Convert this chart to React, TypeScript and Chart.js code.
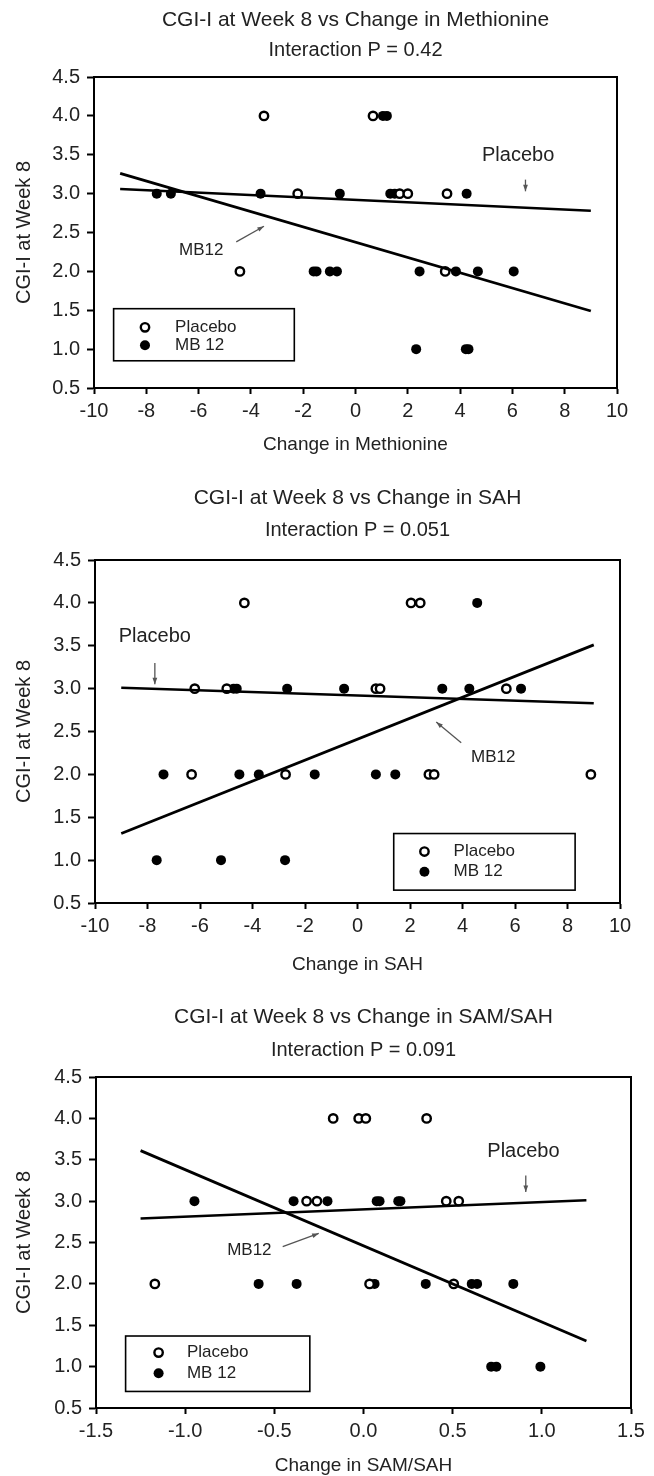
import React, { useEffect, useRef } from "react";
import { Chart, registerables } from "chart.js";

Chart.register(...registerables);
Chart.defaults.font.family = "'Liberation Sans', Arial, Helvetica, sans-serif";
Chart.defaults.color = "#222";

// ---------------- Shared axis data ----------------
const cgiTicks = [0.5, 1.0, 1.5, 2.0, 2.5, 3.0, 3.5, 4.0, 4.5];
const yAxisLabel = "CGI-I at Week 8";
const seriesNames = ["Placebo", "MB 12"];

// ---------------- Panel 1: Methionine ----------------
const methTitle = "CGI-I at Week 8 vs Change in Methionine";
const methSubtitle = "Interaction P = 0.42";
const methXLabel = "Change in Methionine";
const methXTicks = [-10, -8, -6, -4, -2, 0, 2, 4, 6, 8, 10];
const methPlaceboX = [-3.5, 0.67, -2.21, 1.69, 2.0, 3.5, -4.42, 3.43];
const methPlaceboY = [4, 4, 3, 3, 3, 3, 2, 2];
const methMbX = [1.05, 1.2, -7.6, -7.06, -3.63, -0.6, 1.33, 1.5, 4.25, -1.6, -1.49, -0.98, -0.71, 2.45, 3.84, 4.68, 6.05, 2.32, 4.22, 4.32];
const methMbY = [4, 4, 3, 3, 3, 3, 3, 3, 3, 2, 2, 2, 2, 2, 2, 2, 2, 1, 1, 1];
const methLineX = [-9, 9];
const methPlaceboLineY = [3.06, 2.78];
const methMbLineY = [3.26, 1.49];

// ---------------- Panel 2: SAH ----------------
const sahTitle = "CGI-I at Week 8 vs Change in SAH";
const sahSubtitle = "Interaction P = 0.051";
const sahXLabel = "Change in SAH";
const sahXTicks = [-10, -8, -6, -4, -2, 0, 2, 4, 6, 8, 10];
const sahPlaceboX = [-4.31, 2.04, 2.39, -6.2, -4.98, 0.7, 0.86, 5.67, -6.32, -2.74, 2.72, 2.92, 8.89];
const sahPlaceboY = [4, 4, 4, 3, 3, 3, 3, 3, 2, 2, 2, 2, 2];
const sahMbX = [4.56, -4.72, -4.6, -2.68, -0.51, 3.23, 4.26, 6.23, -7.39, -4.5, -3.76, -1.63, 0.7, 1.44, -7.65, -5.2, -2.76];
const sahMbY = [4, 3, 3, 3, 3, 3, 3, 3, 2, 2, 2, 2, 2, 2, 1, 1, 1];
const sahLineX = [-9, 9];
const sahPlaceboLineY = [3.01, 2.83];
const sahMbLineY = [1.31, 3.51];

// ---------------- Panel 3: SAM/SAH ----------------
const ratioTitle = "CGI-I at Week 8 vs Change in SAM/SAH";
const ratioSubtitle = "Interaction P = 0.091";
const ratioXLabel = "Change in SAM/SAH";
const ratioXTicks = [-1.5, -1.0, -0.5, 0.0, 0.5, 1.0, 1.5];
const ratioPlaceboX = [-0.17, -0.027, 0.013, 0.354, -0.319, -0.261, 0.464, 0.534, -1.17, 0.034, 0.506];
const ratioPlaceboY = [4, 4, 4, 4, 3, 3, 3, 3, 2, 2, 2];
const ratioMbX = [-0.948, -0.392, -0.202, 0.074, 0.09, 0.195, 0.207, -0.588, -0.375, 0.062, 0.349, 0.607, 0.637, 0.84, 0.716, 0.745, 0.992];
const ratioMbY = [3, 3, 3, 3, 3, 3, 3, 2, 2, 2, 2, 2, 2, 2, 1, 1, 1];
const ratioLineX = [-1.25, 1.25];
const ratioPlaceboLineY = [2.79, 3.01];
const ratioMbLineY = [3.61, 1.31];

// ---------------- Layout / styling (not data) ----------------
const W = 654;

type Note = { text: string; x: number; y: number; size: number };
type Arrow = { x1: number; y1: number; x2: number; y2: number };
type LegendBox = { x1: number; y1: number; x2: number; y2: number; markerX: number; textX: number; rowY: number[] };

type PanelCfg = {
  top: number;
  height: number;
  area: { left: number; right: number; top: number; bottom: number };
  titleY: number;
  subtitleY: number;
  xTitleY: number;
  title: string;
  subtitle: string;
  xLabel: string;
  xTicks: number[];
  xDecimals: number;
  placeboX: number[];
  placeboY: number[];
  mbX: number[];
  mbY: number[];
  lineX: number[];
  placeboLineY: number[];
  mbLineY: number[];
  notes: Note[];
  arrows: Arrow[];
  legend: LegendBox;
};

const panels: PanelCfg[] = [
  {
    top: 0,
    height: 475,
    area: { left: 94, right: 617, top: 77, bottom: 388 },
    titleY: 20,
    subtitleY: 50,
    xTitleY: 445,
    title: methTitle,
    subtitle: methSubtitle,
    xLabel: methXLabel,
    xTicks: methXTicks,
    xDecimals: 0,
    placeboX: methPlaceboX,
    placeboY: methPlaceboY,
    mbX: methMbX,
    mbY: methMbY,
    lineX: methLineX,
    placeboLineY: methPlaceboLineY,
    mbLineY: methMbLineY,
    notes: [
      { text: "Placebo", x: 6.22, y: 3.49, size: 20 },
      { text: "MB12", x: -5.9, y: 2.27, size: 17 },
    ],
    arrows: [
      { x1: 6.5, y1: 3.18, x2: 6.5, y2: 3.03 },
      { x1: -4.56, y1: 2.38, x2: -3.5, y2: 2.58 },
    ],
    legend: { x1: -9.25, y1: 1.52, x2: -2.34, y2: 0.85, markerX: -8.05, textX: -6.9, rowY: [1.28, 1.05] },
  },
  {
    top: 475,
    height: 520,
    area: { left: 95, right: 620, top: 85, bottom: 428 },
    titleY: 23,
    subtitleY: 55,
    xTitleY: 490,
    title: sahTitle,
    subtitle: sahSubtitle,
    xLabel: sahXLabel,
    xTicks: sahXTicks,
    xDecimals: 0,
    placeboX: sahPlaceboX,
    placeboY: sahPlaceboY,
    mbX: sahMbX,
    mbY: sahMbY,
    lineX: sahLineX,
    placeboLineY: sahPlaceboLineY,
    mbLineY: sahMbLineY,
    notes: [
      { text: "Placebo", x: -7.72, y: 3.61, size: 20 },
      { text: "MB12", x: 5.17, y: 2.2, size: 17 },
    ],
    arrows: [
      { x1: -7.72, y1: 3.3, x2: -7.72, y2: 3.05 },
      { x1: 3.95, y1: 2.37, x2: 3.0, y2: 2.61 },
    ],
    legend: { x1: 1.38, y1: 1.31, x2: 8.29, y2: 0.65, markerX: 2.55, textX: 3.66, rowY: [1.1, 0.865] },
  },
  {
    top: 995,
    height: 481,
    area: { left: 96, right: 631, top: 82, bottom: 413 },
    titleY: 22,
    subtitleY: 55,
    xTitleY: 471,
    title: ratioTitle,
    subtitle: ratioSubtitle,
    xLabel: ratioXLabel,
    xTicks: ratioXTicks,
    xDecimals: 1,
    placeboX: ratioPlaceboX,
    placeboY: ratioPlaceboY,
    mbX: ratioMbX,
    mbY: ratioMbY,
    lineX: ratioLineX,
    placeboLineY: ratioPlaceboLineY,
    mbLineY: ratioMbLineY,
    notes: [
      { text: "Placebo", x: 0.897, y: 3.6, size: 20 },
      { text: "MB12", x: -0.64, y: 2.4, size: 17 },
    ],
    arrows: [
      { x1: 0.91, y1: 3.31, x2: 0.91, y2: 3.11 },
      { x1: -0.453, y1: 2.45, x2: -0.251, y2: 2.61 },
    ],
    legend: { x1: -1.334, y1: 1.37, x2: -0.301, y2: 0.7, markerX: -1.149, textX: -0.99, rowY: [1.17, 0.92] },
  },
];

const FONT = "'Liberation Sans', Arial, Helvetica, sans-serif";
const TEXT = "#222";

function drawArrow(ctx: CanvasRenderingContext2D, x1: number, y1: number, x2: number, y2: number) {
  const ang = Math.atan2(y2 - y1, x2 - x1);
  const head = 7;
  ctx.save();
  ctx.strokeStyle = "#555";
  ctx.fillStyle = "#555";
  ctx.lineWidth = 1.3;
  ctx.beginPath();
  ctx.moveTo(x1, y1);
  ctx.lineTo(x2, y2);
  ctx.stroke();
  ctx.beginPath();
  ctx.moveTo(x2, y2);
  ctx.lineTo(x2 - head * Math.cos(ang - 0.35), y2 - head * Math.sin(ang - 0.35));
  ctx.lineTo(x2 - head * Math.cos(ang + 0.35), y2 - head * Math.sin(ang + 0.35));
  ctx.closePath();
  ctx.fill();
  ctx.restore();
}

function makeDecorPlugin(cfg: PanelCfg) {
  return {
    id: "decor",
    afterDraw(chart: any) {
      const ctx: CanvasRenderingContext2D = chart.ctx;
      const { chartArea } = chart;
      const xs = chart.scales.x;
      const ys = chart.scales.y;
      const px = (v: number) => xs.getPixelForValue(v);
      const py = (v: number) => ys.getPixelForValue(v);
      const cx = (chartArea.left + chartArea.right) / 2;

      ctx.save();
      // frame (top & right)
      ctx.strokeStyle = "#000";
      ctx.lineWidth = 2;
      ctx.beginPath();
      ctx.moveTo(chartArea.left, chartArea.top);
      ctx.lineTo(chartArea.right, chartArea.top);
      ctx.lineTo(chartArea.right, chartArea.bottom);
      ctx.stroke();

      // titles
      ctx.fillStyle = TEXT;
      ctx.textAlign = "center";
      ctx.textBaseline = "middle";
      ctx.font = `21px ${FONT}`;
      ctx.fillText(cfg.title, cx, cfg.titleY);
      ctx.font = `20px ${FONT}`;
      ctx.fillText(cfg.subtitle, cx, cfg.subtitleY);

      // notes
      cfg.notes.forEach((n) => {
        ctx.font = `${n.size}px ${FONT}`;
        ctx.fillStyle = TEXT;
        ctx.textAlign = "center";
        ctx.fillText(n.text, px(n.x), py(n.y));
      });
      cfg.arrows.forEach((a) => drawArrow(ctx, px(a.x1), py(a.y1), px(a.x2), py(a.y2)));

      // legend box
      const lg = cfg.legend;
      const lx1 = px(lg.x1), lx2 = px(lg.x2), ly1 = py(lg.y1), ly2 = py(lg.y2);
      ctx.fillStyle = "#fff";
      ctx.fillRect(lx1, ly1, lx2 - lx1, ly2 - ly1);
      ctx.strokeStyle = "#000";
      ctx.lineWidth = 1.6;
      ctx.strokeRect(lx1, ly1, lx2 - lx1, ly2 - ly1);
      const mx = px(lg.markerX);
      // open marker
      ctx.beginPath();
      ctx.arc(mx, py(lg.rowY[0]), 4.2, 0, Math.PI * 2);
      ctx.fillStyle = "#fff";
      ctx.fill();
      ctx.lineWidth = 2.4;
      ctx.strokeStyle = "#000";
      ctx.stroke();
      // filled marker
      ctx.beginPath();
      ctx.arc(mx, py(lg.rowY[1]), 5, 0, Math.PI * 2);
      ctx.fillStyle = "#000";
      ctx.fill();
      ctx.font = `17px ${FONT}`;
      ctx.fillStyle = TEXT;
      ctx.textAlign = "left";
      ctx.fillText(seriesNames[0], px(lg.textX), py(lg.rowY[0]));
      ctx.fillText(seriesNames[1], px(lg.textX), py(lg.rowY[1]));
      ctx.restore();
    },
  };
}

function Panel({ cfg }: { cfg: PanelCfg }) {
  const ref = useRef<HTMLCanvasElement | null>(null);
  useEffect(() => {
    if (!ref.current) return;
    const { area, height } = cfg;
    const titleFontSize = 19;
    const xTitlePad = Math.max(0, height - cfg.xTitleY - titleFontSize / 2);
    const pts = (xs: number[], ys: number[]) => xs.map((x, i) => ({ x, y: ys[i] }));
    const chart = new Chart(ref.current, {
      type: "scatter",
      data: {
        datasets: [
          {
            label: "Placebo fit",
            data: pts(cfg.lineX, cfg.placeboLineY),
            showLine: true,
            borderColor: "#000",
            borderWidth: 2.6,
            pointRadius: 0,
            fill: false,
          },
          {
            label: "MB12 fit",
            data: pts(cfg.lineX, cfg.mbLineY),
            showLine: true,
            borderColor: "#000",
            borderWidth: 2.8,
            pointRadius: 0,
            fill: false,
          },
          {
            label: seriesNames[0],
            data: pts(cfg.placeboX, cfg.placeboY),
            pointStyle: "circle",
            pointRadius: 4.2,
            pointBackgroundColor: "#fff",
            pointBorderColor: "#000",
            pointBorderWidth: 2.4,
          },
          {
            label: seriesNames[1],
            data: pts(cfg.mbX, cfg.mbY),
            pointStyle: "circle",
            pointRadius: 5,
            pointBackgroundColor: "#000",
            pointBorderColor: "#000",
            pointBorderWidth: 0,
          },
        ],
      },
      options: {
        responsive: false,
        animation: false,
        events: [],
        layout: { padding: { top: area.top, left: 0, right: W - area.right, bottom: 0 } },
        plugins: { legend: { display: false }, tooltip: { enabled: false }, title: { display: false } },
        scales: {
          x: {
            type: "linear",
            position: "bottom",
            min: cfg.xTicks[0],
            max: cfg.xTicks[cfg.xTicks.length - 1],
            afterBuildTicks: (s: any) => {
              s.ticks = cfg.xTicks.map((v) => ({ value: v }));
            },
            afterFit: (s: any) => {
              s.height = height - area.bottom;
            },
            ticks: {
              font: { size: 20 },
              color: TEXT,
              padding: 5,
              autoSkip: false,
              maxRotation: 0,
              callback: (v: any) => Number(v).toFixed(cfg.xDecimals),
            },
            grid: { display: true, drawOnChartArea: false, drawTicks: true, tickLength: 6, tickWidth: 2, color: "#000" },
            border: { display: true, width: 2, color: "#000" },
            title: {
              display: true,
              text: cfg.xLabel,
              color: TEXT,
              font: { size: titleFontSize, lineHeight: 1 },
              padding: { top: 0, bottom: xTitlePad },
            },
          },
          y: {
            type: "linear",
            position: "left",
            min: cgiTicks[0],
            max: cgiTicks[cgiTicks.length - 1],
            afterBuildTicks: (s: any) => {
              s.ticks = cgiTicks.map((v) => ({ value: v }));
            },
            afterFit: (s: any) => {
              s.width = area.left;
            },
            ticks: {
              font: { size: 20 },
              color: TEXT,
              padding: 7,
              autoSkip: false,
              callback: (v: any) => Number(v).toFixed(1),
            },
            grid: { display: true, drawOnChartArea: false, drawTicks: true, tickLength: 7, tickWidth: 2, color: "#000" },
            border: { display: true, width: 2, color: "#000" },
            title: {
              display: true,
              text: yAxisLabel,
              color: TEXT,
              font: { size: 20, lineHeight: 1 },
              padding: { top: 14, bottom: 0 },
            },
          },
        },
      },
      plugins: [makeDecorPlugin(cfg)],
    } as any);
    return () => chart.destroy();
  }, [cfg]);
  return (
    <div style={{ position: "absolute", left: 0, top: cfg.top, width: W, height: cfg.height }}>
      <canvas ref={ref} width={W} height={cfg.height} style={{ display: "block" }} />
    </div>
  );
}

export default function App() {
  return (
    <div style={{ position: "absolute", left: 0, top: 0, width: W, height: 1476, background: "#fff" }}>
      {panels.map((p, i) => (
        <Panel key={i} cfg={p} />
      ))}
    </div>
  );
}
